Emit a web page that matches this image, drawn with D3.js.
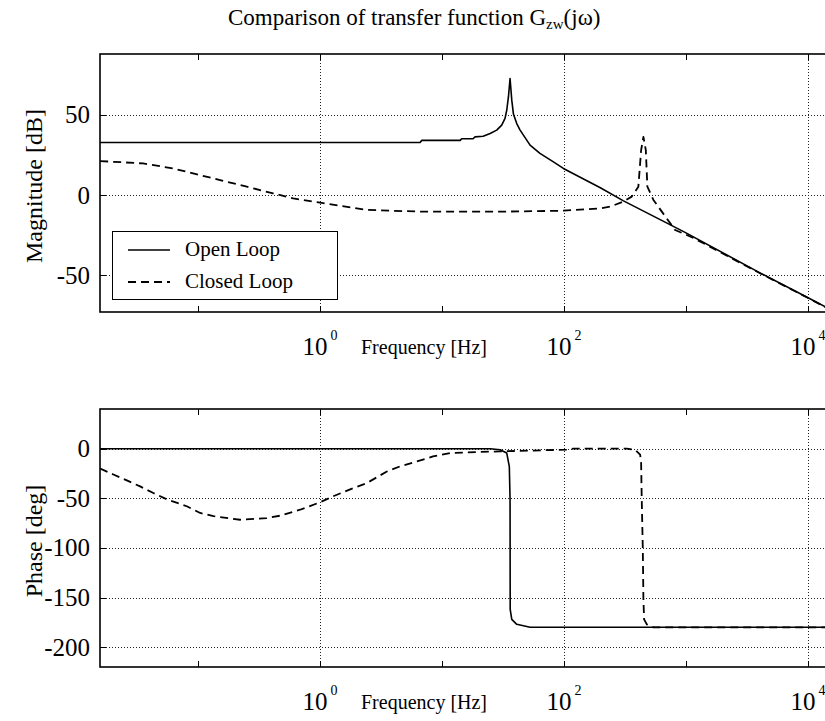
<!DOCTYPE html>
<html>
<head>
<meta charset="utf-8">
<script src="https://cdn.jsdelivr.net/npm/d3@7"></script>
<style>
  html, body { margin: 0; padding: 0; background: #fff; }
  svg { display: block; }
  text { font-family: "Liberation Serif", "Times New Roman", Times, serif; fill: #000; }
</style>
</head>
<body>
<svg id="chart" width="825" height="721"></svg>
<script>
// ---------- Data ----------
const title = "Comparison of transfer function G";
const seriesNames = ["Open Loop", "Closed Loop"];

// Open loop magnitude [dB]
const olMagFreq = [0.0159, 1, 6.66, 6.88, 14.2, 14.6, 18.1, 18.8, 21.9, 25, 28.3, 31.1, 33.1, 34.2, 35.3, 36.4, 37.6, 38.8, 41.3, 44, 53.1, 64, 82.5, 99.6, 200, 307, 990, 4070, 10000, 15849];
const olMagDb   = [32.8, 32.8, 32.8, 34.1, 34.1, 35.1, 35.1, 36.3, 36.7, 38.4, 40.5, 43.6, 47.8, 52.9, 61.2, 72.7, 59.2, 50.5, 44.6, 40.5, 31.1, 26, 20.7, 16.6, 4.5, -3.5, -23.3, -48.6, -64, -72];

// Closed loop magnitude [dB]
const clMagFreq = [0.0159, 0.0357, 0.063, 0.0919, 0.153, 0.253, 0.416, 0.607, 1.01, 2.44, 7.05, 30.2, 99.6, 200, 240, 307, 362, 410, 432, 451, 472, 486, 545, 820, 1159, 4070, 10000, 15849];
const clMagDb   = [21.2, 19.7, 16.6, 13.5, 9.3, 5.2, 1.0, -2.1, -4.8, -9.3, -10.4, -10.4, -9.8, -8.3, -7.3, -4.2, -1.0, 5.2, 28, 36.3, 28, 5.2, -3.1, -21.8, -26.8, -48.8, -64.1, -72.1];

// Open loop phase [deg]
const olPhFreq = [0.0159, 1, 10, 25, 30.2, 34.2, 35.9, 36.4, 36.5, 37.6, 41.3, 53.1, 100, 1000, 15849];
const olPhDeg  = [0, 0, 0, 0, -1, -4.4, -18, -51, -162, -172, -177, -180, -180, -180, -180];

// Closed loop phase [deg]
const clPhFreq = [0.0159, 0.0204, 0.0263, 0.0338, 0.0434, 0.0559, 0.0815, 0.105, 0.135, 0.223, 0.369, 0.475, 0.692, 1.01, 1.29, 1.78, 2.44, 3.56, 4.57, 6.26, 8.51, 11.7, 16.1, 30.2, 106, 120, 330, 385, 424, 432, 437, 446, 451, 457, 481, 545, 1000, 15849];
const clPhDeg  = [-20, -26, -32, -38, -44.7, -51, -58, -64.8, -68, -71.6, -70, -67.5, -61.5, -54, -48, -41, -34.6, -23, -17.8, -12.8, -7.8, -4.4, -3.7, -2.7, -1, 0, 0, -1, -6, -14.4, -51, -102, -152, -172, -177, -180, -180, -180];

const xTickDecades = [-1, 0, 1, 2, 3, 4];
const xLabelDecades = [0, 2, 4];
const magTicks = [-50, 0, 50];
const phTicks = [-200, -150, -100, -50, 0];
const magDomain = [-73, 88];
const phDomain = [-220, 40];
const xDomain = [Math.pow(10, -1.8), Math.pow(10, 4.2)];

// ---------- Drawing ----------
const svg = d3.select("#chart");
const L = 100, R = 832;
const panels = [
  { top: 54, bottom: 312, domain: magDomain, ticks: magTicks, ylabel: "Magnitude [dB]",
    series: [[olMagFreq, olMagDb], [clMagFreq, clMagDb]], legend: true },
  { top: 409, bottom: 667, domain: phDomain, ticks: phTicks, ylabel: "Phase [deg]",
    series: [[olPhFreq, olPhDeg], [clPhFreq, clPhDeg]], legend: false }
];

const x = d3.scaleLog().domain(xDomain).range([L, R]);
const styles = [
  { dash: null, width: 1.6 },
  { dash: "8,5", width: 1.8 }
];

// Title
const t = svg.append("text").attr("x", 228).attr("y", 25).attr("font-size", 23);
t.append("tspan").text(title);
t.append("tspan").attr("font-size", 15).attr("dy", 4).text("zw");
t.append("tspan").attr("dy", -4).text("(jω)");

panels.forEach((p, i) => {
  const y = d3.scaleLinear().domain(p.domain).range([p.bottom, p.top]);
  const g = svg.append("g");
  const clipId = "clip" + i;
  svg.append("clipPath").attr("id", clipId).append("rect")
    .attr("x", L).attr("y", p.top).attr("width", R - L).attr("height", p.bottom - p.top);

  // grid
  const grid = g.append("g").attr("stroke", "#222").attr("stroke-width", 1).attr("stroke-dasharray", "1,2");
  p.ticks.forEach(v => {
    grid.append("line").attr("x1", L).attr("x2", R).attr("y1", Math.round(y(v)) + 0.5).attr("y2", Math.round(y(v)) + 0.5);
  });
  xLabelDecades.forEach(d => {
    const xx = Math.round(x(Math.pow(10, d))) + 0.5;
    grid.append("line").attr("x1", xx).attr("x2", xx).attr("y1", p.top).attr("y2", p.bottom);
  });

  // ticks (inward)
  const tk = g.append("g").attr("stroke", "#000").attr("stroke-width", 1);
  xTickDecades.forEach(d => {
    const xx = Math.round(x(Math.pow(10, d))) + 0.5;
    tk.append("line").attr("x1", xx).attr("x2", xx).attr("y1", p.top).attr("y2", p.top + 6);
    tk.append("line").attr("x1", xx).attr("x2", xx).attr("y1", p.bottom).attr("y2", p.bottom - 6);
  });
  p.ticks.forEach(v => {
    const yy = Math.round(y(v)) + 0.5;
    tk.append("line").attr("x1", L).attr("x2", L + 6).attr("y1", yy).attr("y2", yy);
    tk.append("line").attr("x1", R).attr("x2", R - 6).attr("y1", yy).attr("y2", yy);
  });

  // curves
  const curves = g.append("g").attr("clip-path", `url(#${clipId})`);
  p.series.forEach((s, k) => {
    const pts = s[0].map((f, j) => [f, s[1][j]]);
    const line = d3.line().x(d => x(d[0])).y(d => y(d[1]));
    curves.append("path").datum(pts).attr("d", line)
      .attr("fill", "none").attr("stroke", "#000")
      .attr("stroke-width", styles[k].width)
      .attr("stroke-dasharray", styles[k].dash)
      .attr("stroke-linejoin", "round");
  });

  // frame
  g.append("rect").attr("x", L).attr("y", p.top).attr("width", R - L).attr("height", p.bottom - p.top)
    .attr("fill", "none").attr("stroke", "#000").attr("stroke-width", 1.6);

  // y tick labels
  p.ticks.forEach(v => {
    g.append("text").attr("x", 90).attr("y", y(v) + 8.5).attr("text-anchor", "end")
      .attr("font-size", 25).text(v);
  });

  // x tick labels 10^n
  xLabelDecades.forEach(d => {
    const xx = x(Math.pow(10, d));
    g.append("text").attr("x", xx - 17).attr("y", p.bottom + 43).attr("font-size", 25).text("10");
    g.append("text").attr("x", xx + 11).attr("y", p.bottom + 28).attr("font-size", 14).text(d);
  });

  // x label
  g.append("text").attr("x", 424).attr("y", p.bottom + 42).attr("text-anchor", "middle")
    .attr("font-size", 20).text("Frequency [Hz]");

  // y label
  const cy = (p.top + p.bottom) / 2 + 3;
  g.append("text").attr("transform", `translate(42,${cy}) rotate(-90)`)
    .attr("text-anchor", "middle").attr("font-size", 24).text(p.ylabel);

  // legend
  if (p.legend) {
    const lg = g.append("g");
    lg.append("rect").attr("x", 112.5).attr("y", 231.5).attr("width", 225).attr("height", 68)
      .attr("fill", "#fff").attr("stroke", "#000").attr("stroke-width", 1);
    const ly = [250, 282];
    seriesNames.forEach((n, k) => {
      lg.append("line").attr("x1", 128).attr("x2", 170).attr("y1", ly[k]).attr("y2", ly[k])
        .attr("stroke", "#000").attr("stroke-width", styles[k].width)
        .attr("stroke-dasharray", styles[k].dash);
      lg.append("text").attr("x", 185).attr("y", ly[k] + 6).attr("font-size", 21).text(n);
    });
  }
});
</script>
</body>
</html>
